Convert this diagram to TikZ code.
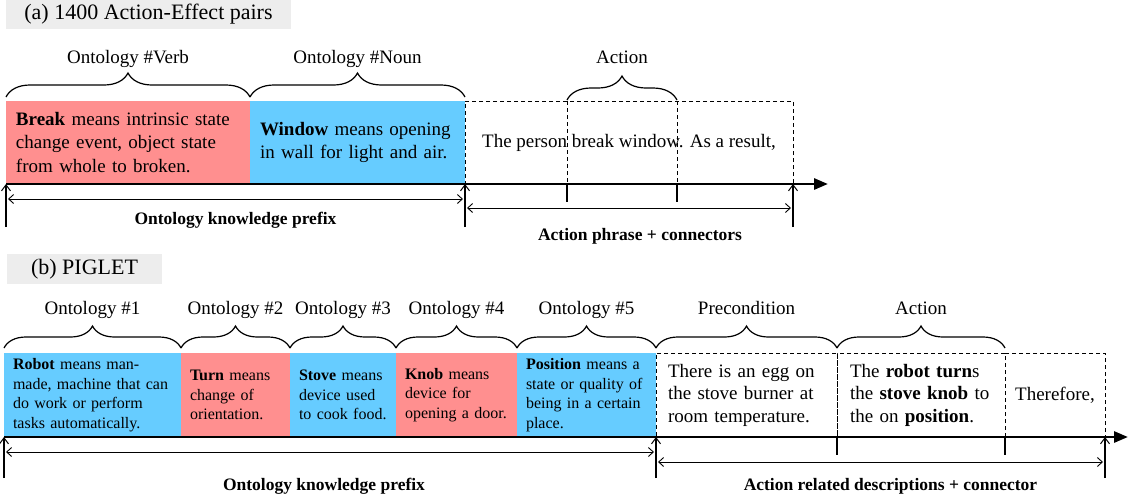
\documentclass[tikz,border=0pt]{standalone}
\usepackage{fontspec}
\setmainfont{Liberation Serif}
\usetikzlibrary{arrows.meta,calc,positioning,decorations.pathreplacing}
\definecolor{defred}{RGB}{255,143,143}
\definecolor{defblue}{RGB}{102,204,255}
\definecolor{titlegray}{RGB}{237,237,237}

\begin{document}
\begin{tikzpicture}[x=1pt, y=-1pt,
    every node/.style={outer sep=0pt},
    titlebox/.style={fill=titlegray, anchor=north west, inner sep=0pt, font=\fontsize{22}{26}\selectfont},
    defa/.style={anchor=north west, minimum height=83pt, inner xsep=10pt, inner ysep=0pt, align=left, font=\fontsize{19}{23.5}\selectfont},
    defb/.style={defa, minimum height=84pt, inner xsep=9pt, font=\fontsize{16}{19.5}\selectfont},
    dashbox/.style={draw, line width=0.9pt, dash pattern=on 4pt off 3pt},
    precb/.style={defa, minimum height=84pt, dashbox, font=\fontsize{19}{22.5}\selectfont},
    curly/.style={decorate, decoration={brace, amplitude=24pt, raise=4pt}, line width=1.2pt},
    curlyb/.style={curly, decoration={amplitude=22pt, raise=5pt}},
    bracelbl/.style={above=30pt, text height=13pt, text depth=4pt, font=\fontsize{19}{23}\selectfont},
    axis/.style={line width=2.8pt, -{Triangle[length=14pt, width=11pt]}},
    uparrow/.style={line width=2.5pt, -{Straight Barb[length=6pt, width=9pt, line width=1pt]}},
    dimarrow/.style={line width=0.9pt, {Straight Barb[length=5pt, width=9pt]}-{Straight Barb[length=5pt, width=9pt]}},
    tickmark/.style={line width=2.5pt},
    sumlbl/.style={font=\fontsize{17.5}{21}\selectfont\bfseries}]
    \useasboundingbox (0,0) rectangle (1128,496);

    % (a) action-effect pairs
    \node[titlebox, minimum width=285pt, minimum height=29pt] (titlea) at (6,0) {(a) 1400 Action-Effect pairs};
    \node[defa, fill=defred, text width=224pt] (verb) at (6,101) {\textbf{Break} means intrinsic state\\change event, object state\\from whole to broken.};
    \node[defa, fill=defblue, text width=195pt, right=0pt of verb] (noun) {\textbf{Window} means opening\\in wall for light and air.};
    \node[defa, dashbox, minimum width=328pt, inner xsep=0pt, right=0pt of noun] (phrase) {The person break window. As a result,};
    \coordinate (act1) at (567,101);
    \coordinate (act2) at (677,101);
    \draw[dashbox] (act1) -- (act1 |- phrase.south);
    \draw[dashbox] (act2) -- (act2 |- phrase.south);
    % braces
    \draw[curly] (verb.north west) -- node[bracelbl] (verbl) {Ontology \#Verb} (verb.north east);
    \draw[curly] (noun.north west) -- node[bracelbl] (nounl) {Ontology \#Noun} (noun.north east);
    \draw[curly, decoration={raise=1pt}] (act1) -- node[bracelbl] (actl) {Action} (act2);
    % time line
    \coordinate (aend) at (828,184);
    \draw[axis] (verb.south west) -- (aend);
    \draw[tickmark] (act1 |- phrase.south) -- ++(0,18);
    \draw[tickmark] (act2 |- phrase.south) -- ++(0,18);
    \draw[uparrow] ($(verb.south west)+(0,43)$) -- (verb.south west);
    \draw[uparrow] ($(noun.south east)+(0,43)$) -- (noun.south east);
    \draw[uparrow] ($(phrase.south east)+(0,43)$) -- (phrase.south east);
    \draw[dimarrow] ($(verb.south west)+(2,15)$) -- node[sumlbl, below=10pt] (prefa) {Ontology knowledge prefix} ($(noun.south east)+(-2,15)$);
    \draw[dimarrow] ($(phrase.south west)+(2,24)$) -- node[sumlbl, below=17pt, xshift=11pt] (conna) {Action phrase + connectors} ($(phrase.south east)+(-2,24)$);

    % (b) PIGLET
    \node[titlebox, minimum width=155pt, minimum height=30pt] (titleb) at (7,254) {(b) PIGLET};
    \node[defb, fill=defblue, text width=159pt] (robot) at (4,353) {\textbf{Robot} means man-\\made, machine that can\\do work or perform\\tasks automatically.};
    \node[defb, fill=defred, text width=91pt, right=0pt of robot] (turn) {\textbf{Turn} means\\change of\\orientation.};
    \node[defb, fill=defblue, text width=88pt, right=0pt of turn] (stove) {\textbf{Stove} means\\device used\\to cook food.};
    \node[defb, fill=defred, text width=103pt, right=0pt of stove] (knob) {\textbf{Knob} means\\device for\\opening a door.};
    \node[defb, fill=defblue, text width=121pt, right=0pt of knob] (posb) {\textbf{Position} means a\\state or quality of\\being in a certain\\place.};
    \node[precb, text width=157pt, inner xsep=12pt, right=0pt of posb] (preb) {There is an egg on\\the stove burner at\\room temperature.};
    \node[precb, text width=142pt, inner xsep=13pt, right=0pt of preb] (actb) {The \textbf{robot turn}s\\the \textbf{stove knob} to\\the on \textbf{position}.};
    \node[precb, minimum width=100pt, inner xsep=5pt, align=center, right=0pt of actb] (thereb) {Therefore,};
    % braces
    \draw[curlyb] (robot.north west) -- node[bracelbl, above=31pt] {Ontology \#1} (robot.north east);
    \draw[curlyb] (turn.north west) -- node[bracelbl, above=31pt] {Ontology \#2} (turn.north east);
    \draw[curlyb] (stove.north west) -- node[bracelbl, above=31pt] {Ontology \#3} (stove.north east);
    \draw[curlyb] (knob.north west) -- node[bracelbl, above=31pt] {Ontology \#4} (knob.north east);
    \draw[curlyb] (posb.north west) -- node[bracelbl, above=31pt] {Ontology \#5} (posb.north east);
    \draw[curlyb] (preb.north west) -- node[bracelbl, above=31pt] {Precondition} (preb.north east);
    \draw[curlyb] (actb.north west) -- node[bracelbl, above=31pt] {Action} (actb.north east);
    % time line
    \coordinate (bend) at (1128,437);
    \draw[axis] (robot.south west) -- (bend);
    \draw[tickmark] (preb.south east) -- ++(0,18);
    \draw[tickmark] (actb.south east) -- ++(0,18);
    \draw[uparrow] ($(robot.south west)+(0,41)$) -- (robot.south west);
    \draw[uparrow] ($(posb.south east)+(0,41)$) -- (posb.south east);
    \draw[uparrow] ($(thereb.south east)+(0,41)$) -- (thereb.south east);
    \draw[dimarrow] ($(robot.south west)+(2,15)$) -- node[sumlbl, below=23pt, xshift=-6pt] (prefb) {Ontology knowledge prefix} ($(posb.south east)+(-2,15)$);
    \draw[dimarrow] ($(preb.south west)+(2,25)$) -- node[sumlbl, below=13pt, xshift=10pt] (connb) {Action related descriptions + connector} ($(thereb.south east)+(-2,25)$);
\end{tikzpicture}
\end{document}
